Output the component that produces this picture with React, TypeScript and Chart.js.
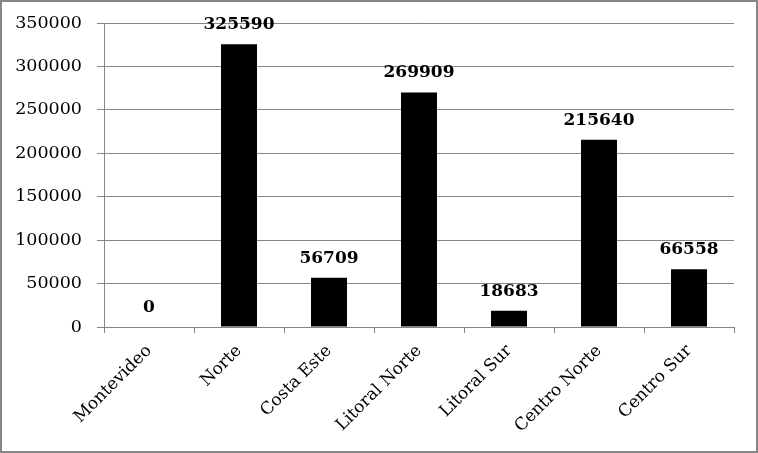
import React, { useEffect, useRef } from "react";
import { Chart, registerables } from "chart.js";

Chart.register(...registerables);

const categories = ["Montevideo", "Norte", "Costa Este", "Litoral Norte", "Litoral Sur", "Centro Norte", "Centro Sur"];
const values = [0, 325590, 56709, 269909, 18683, 215640, 66558];
const yMin = 0;
const yMax = 350000;
const yStep = 50000;

const FONT = "'DejaVu Serif', serif";
const GRID = "#868686";

const labelPlugin = {
  id: "valueLabels",
  afterDatasetsDraw(chart: any) {
    const ctx = chart.ctx;
    const meta = chart.getDatasetMeta(0);
    ctx.save();
    ctx.font = `bold 17px ${FONT}`;
    ctx.fillStyle = "#000";
    ctx.textAlign = "center";
    ctx.textBaseline = "bottom";
    meta.data.forEach((bar: any, i: number) => {
      ctx.fillText(String(values[i]), bar.x, bar.y - 11);
    });
    ctx.restore();
  },
};

export default function App() {
  const ref = useRef<HTMLCanvasElement>(null);
  useEffect(() => {
    document.body.style.margin = "0";
    const chart = new Chart(ref.current!, {
      type: "bar",
      data: {
        labels: categories,
        datasets: [
          {
            data: values,
            backgroundColor: "#000",
            barPercentage: 0.4,
            categoryPercentage: 1,
          },
        ],
      },
      options: {
        responsive: false,
        animation: false,
        layout: { padding: { top: 21, right: 22, left: 0, bottom: 0 } },
        plugins: { legend: { display: false }, tooltip: { enabled: false } },
        scales: {
          x: {
            offset: true,
            grid: {
              offset: true,
              drawOnChartArea: false,
              drawTicks: true,
              tickLength: 6,
              color: GRID,
            },
            border: { display: true, color: GRID },
            ticks: {
              minRotation: 45,
              maxRotation: 45,
              autoSkip: false,
              color: "#000",
              padding: 8,
              font: { family: FONT, size: 17 },
            },
            afterFit(scale: any) {
              scale.height = 124;
              scale.paddingLeft = 0;
              scale.paddingRight = 0;
            },
          },
          y: {
            min: yMin,
            max: yMax,
            grid: { color: GRID, tickLength: 7, drawTicks: true },
            border: { display: true, color: GRID },
            ticks: {
              stepSize: yStep,
              color: "#000",
              padding: 15,
              font: { family: FONT, size: 17.5 },
              callback: (v: any) => String(v),
            },
            afterFit(scale: any) {
              scale.width = 102;
              scale.paddingTop = 0;
              scale.paddingBottom = 0;
            },
          },
        },
      },
      plugins: [labelPlugin],
    });
    return () => chart.destroy();
  }, []);
  return (
    <div
      style={{
        width: 758,
        height: 453,
        border: `2px solid ${GRID}`,
        boxSizing: "border-box",
        background: "#fff",
      }}
    >
      <canvas ref={ref} width={754} height={449} style={{ display: "block" }} />
    </div>
  );
}
